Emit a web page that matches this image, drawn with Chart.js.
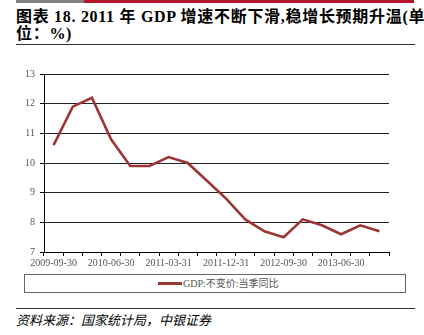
<!DOCTYPE html>
<html>
<head>
<meta charset="utf-8">
<script src="https://cdn.jsdelivr.net/npm/chart.js@4/dist/chart.umd.min.js"></script>
<style>
  html, body { margin: 0; padding: 0; background: #fff; }
  body { width: 424px; height: 335px; position: relative; overflow: hidden; }
  .bar-gray { position: absolute; left: 16px; top: 0; width: 68px; height: 3px; background: #808080; }
  .bar-red { position: absolute; left: 84px; top: 0; width: 330px; height: 3px; background: #b5142e; }
  .title { position: absolute; left: 16px; top: 8px; font-family: "Liberation Serif", "Noto Sans CJK SC", serif; font-weight: bold; font-size: 16px; line-height: 17px; letter-spacing: 0.7px; color: #000; white-space: nowrap; }
  .rule1 { position: absolute; left: 16px; top: 44px; width: 399px; height: 1px; background: #333; }
  .legend { position: absolute; left: 24px; top: 274px; width: 382px; height: 19px; border: 1px solid #666; box-sizing: border-box; }
  .legend .sample { position: absolute; left: 133px; top: 7px; width: 24px; height: 3px; background: #9e3535; }
  .legend .txt { position: absolute; left: 158px; top: 1px; font-family: "Liberation Serif", "Noto Sans CJK SC", serif; font-size: 10px; line-height: 15px; color: #555; white-space: nowrap; }
  .rule2 { position: absolute; left: 16px; top: 308px; width: 399px; height: 1px; background: #333; }
  .source { position: absolute; left: 16px; top: 311px; font-family: "Noto Sans CJK SC", sans-serif; font-style: italic; font-size: 13px; line-height: 17px; color: #000; white-space: nowrap; }
  #wrap { position: absolute; left: 0; top: 60px; width: 424px; height: 212px; }
</style>
</head>
<body>
<div class="bar-gray"></div><div class="bar-red"></div>
<div class="title">图表 18. 2011 年 GDP 增速不断下滑,稳增长预期升温(单<br>位：%)</div>
<div class="rule1"></div>
<div id="wrap"><canvas id="c" width="424" height="212"></canvas></div>
<div class="legend"><div class="sample"></div><div class="txt">GDP:不变价:当季同比</div></div>
<div class="rule2"></div>
<div class="source">资料来源：国家统计局，中银证券</div>
<script>
const categories = ["2009-09-30","2009-12-31","2010-03-31","2010-06-30","2010-09-30","2010-12-31",
  "2011-03-31","2011-06-30","2011-09-30","2011-12-31","2012-03-31","2012-06-30",
  "2012-09-30","2012-12-31","2013-03-31","2013-06-30","2013-09-30","2013-12-31"];
const gdpYoY = [10.6, 11.9, 12.2, 10.8, 9.9, 9.9, 10.2, 10.0, 9.4, 8.8, 8.1, 7.7, 7.5, 8.1, 7.9, 7.6, 7.9, 7.7];
const seriesName = "GDP:不变价:当季同比";
const yMin = 7, yMax = 13, yStep = 1;
const labelEvery = 3;

new Chart(document.getElementById('c'), {
  type: 'line',
  data: {
    labels: categories,
    datasets: [{
      label: seriesName,
      data: gdpYoY,
      borderColor: '#9e3535',
      backgroundColor: '#9e3535',
      borderWidth: 2.6,
      pointRadius: 0,
      tension: 0,
      fill: false
    }]
  },
  options: {
    responsive: false,
    animation: false,
    layout: { padding: { left: 0, right: 35, top: 14, bottom: 0 } },
    plugins: { legend: { display: false }, tooltip: { enabled: false } },
    scales: {
      x: {
        type: 'category',
        offset: true,
        border: { display: true, color: '#000', width: 1 },
        grid: { display: true, drawOnChartArea: false, drawTicks: true, tickLength: 4, color: '#000', offset: true },
        ticks: {
          autoSkip: false, maxRotation: 0, minRotation: 0, padding: 1,
          color: '#555',
          font: { family: 'Liberation Serif', size: 10 },
          callback: function(v, i) { return i % labelEvery === 0 ? this.getLabelForValue(v) : ''; }
        },
        afterFit: function(s) { s.height = 20; }
      },
      y: {
        min: yMin, max: yMax,
        border: { display: true, color: '#000', width: 1 },
        grid: {
          color: function(ctx) { return ctx.tick && ctx.tick.value === yMin ? 'rgba(0,0,0,0)' : '#222'; },
          borderDash: [3, 2],
          drawTicks: true, tickLength: 4, tickColor: '#000', tickBorderDash: [], lineWidth: 1
        },
        ticks: {
          stepSize: yStep, padding: 5, color: '#555',
          font: { family: 'Liberation Serif', size: 10 }
        },
        afterFit: function(s) { s.width = 44; }
      }
    }
  }
});
</script>
</body>
</html>
